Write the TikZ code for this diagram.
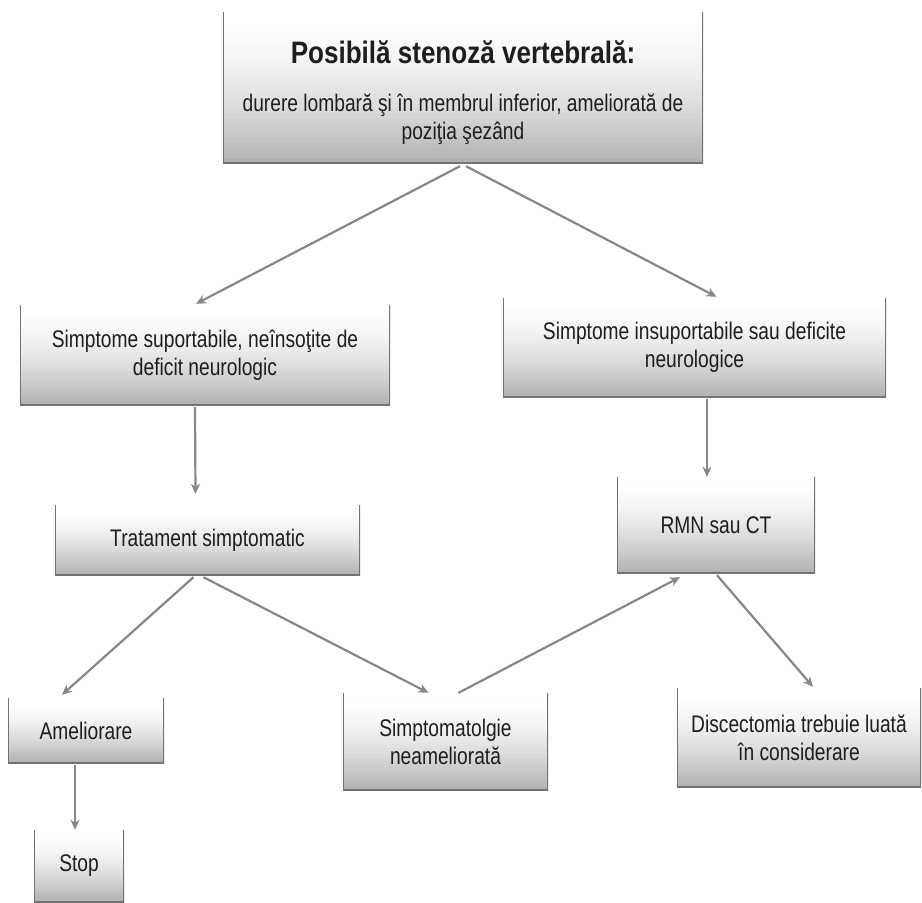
\documentclass[tikz,border=0pt]{standalone}
\usepackage{fontspec}
\usetikzlibrary{arrows.meta,calc}
\newfontfamily\bodyfont{Liberation Sans}[FakeStretch=0.8]
\newfontfamily\titlefam{Liberation Sans}[FakeStretch=0.84]
\newcommand{\titlefont}{\titlefam\bfseries\fontsize{31}{36}\selectfont}
\definecolor{arrowgray}{RGB}{135,135,135}
\definecolor{edgegray}{RGB}{115,115,115}
\definecolor{txt}{RGB}{30,30,30}
\begin{document}
\begin{tikzpicture}[x=1pt,y=-1pt,
  box/.style={inner sep=0pt, align=center, text=txt,
    font=\bodyfont\fontsize{24}{28}\selectfont,
    path picture={
      \foreach \i in {0,...,29}{
        \pgfmathtruncatemacro\pct{60*(\i/29)^1.6}
        \fill[gray!\pct]
          ($(path picture bounding box.north west)!{\i/30}!(path picture bounding box.south west)$)
          rectangle
          ($(path picture bounding box.north east)!{(\i+1.2)/30}!(path picture bounding box.south east)$);
      }
      \draw[edgegray,line width=2.4pt]
      (path picture bounding box.north west) -- (path picture bounding box.south west)
      -- (path picture bounding box.south east) -- (path picture bounding box.north east);}},
  arr/.style={draw=arrowgray, line width=2.2pt,
    -{Stealth[length=10pt,width=9pt,inset=3pt]}}
]
\useasboundingbox (0,0) rectangle (922,903);

\node[box, minimum width=480pt, minimum height=151pt] (top) at (463,87.5)
  {{\titlefont\rule{0pt}{34pt}Posibilă stenoză vertebrală:}\\[20pt]
   durere lombară şi în membrul inferior, ameliorată de\\poziţia şezând};

\node[box, minimum width=370pt, minimum height=100pt] (simL) at (205,355)
  {Simptome suportabile, neînsoţite de\\deficit neurologic};
\node[box, minimum width=383pt, minimum height=99pt] (simR) at (694.5,347.5)
  {Simptome insuportabile sau deficite\\neurologice};

\node[box, minimum width=305pt, minimum height=70pt] (trat) at (207.5,540)
  {Tratament simptomatic};
\node[box, minimum width=198pt, minimum height=96pt] (rmn) at (716,525)
  {RMN sau CT};

\node[box, minimum width=156pt, minimum height=65pt] (amel) at (86,730.5)
  {Ameliorare};
\node[box, minimum width=90pt, minimum height=72pt] (stop) at (79,866)
  {Stop};
\node[box, minimum width=205pt, minimum height=97pt] (simpt) at (445.5,741.5)
  {Simptomatolgie\\neameliorată};
\node[box, minimum width=244pt, minimum height=99pt] (disc) at (799,737.5)
  {Discectomia trebuie luată\\în considerare};

\draw[arr] ($(top.south)+(-3,3)$) -- ($(simL.north)+(-9,-1)$);
\draw[arr] ($(top.south)+(3,3)$) -- ($(simR.north)+(22,-1)$);
\draw[arr] ($(simL.south)+(-10,2)$) -- ($(trat.north)+(-12,-11)$);
\draw[arr] ($(simR.south)+(12.5,2)$) -- ($(rmn.north)+(-9,0)$);
\draw[arr] ($(trat.south)+(-14,2)$) -- ($(amel.north)+(-24,-3)$);
\draw[arr] ($(trat.south)+(-4,2)$) -- ($(simpt.north)+(-17,0)$);
\draw[arr] ($(simpt.north)+(13,0)$) -- ($(rmn.south)+(-36,4)$);
\draw[arr] ($(rmn.south)+(1,2)$) -- ($(disc.north)+(14,-1)$);
\draw[arr] ($(amel.south)+(-11,2)$) -- ($(stop.north)+(-4,0)$);
\end{tikzpicture}
\end{document}
